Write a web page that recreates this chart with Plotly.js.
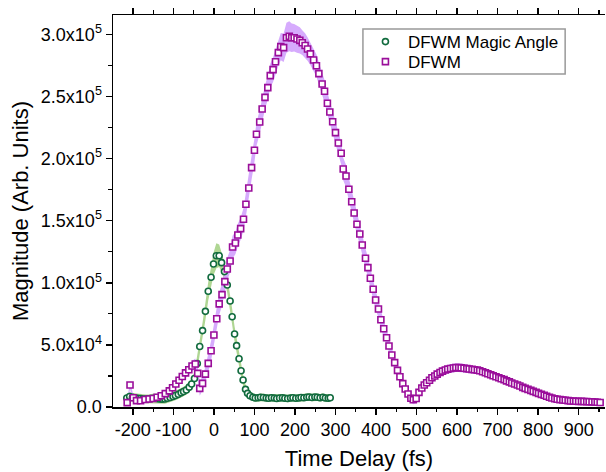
<!DOCTYPE html>
<html>
<head>
<meta charset="utf-8">
<script src="https://cdn.plot.ly/plotly-3.0.1.min.js"></script>
<style>html,body{margin:0;padding:0;background:#fff;}#chart{width:606px;height:472px;}</style>
</head>
<body>
<div id="chart"></div>
<script>
// ---- Data ----
const magicT = [-215,-208,-201,-195,-188,-181,-175,-168,-161,-155,-148,-141,-135,-128,-121,-115,-108,-101,-95,-88,-81,-75,-68,-61,-55,-48,-41,-35,-28,-21,-14,-7,-1,6,13,19,26,33,40,45,51,56,62,67,72,78,83,89,96,102,109,115,122,129,135,142,149,155,162,169,175,182,189,195,202,209,215,222,229,235,242,249,255,262,269,275,282,287];
const magicY = [7200,8500,7800,7500,7000,6800,6500,6500,6600,6800,7000,6800,6500,6300,6400,7000,7600,8500,9300,10200,11500,12500,13700,16000,18500,23000,35000,48700,61500,77000,93200,104500,115100,121800,121800,116200,109000,98200,85300,72700,58800,49400,38900,29200,21700,14200,11000,9100,7800,7200,7400,7800,7600,7200,7000,7400,7200,6800,7200,7500,7000,6800,7200,7400,7000,7200,7600,7400,7800,8000,7600,8000,7800,7400,7800,7200,7000,7400];
const magicErr = [3000,3500,3500,3500,3500,3500,3500,3500,3500,3800,3800,3800,3800,3800,3800,3800,3800,3800,3800,3800,3800,3800,3800,4000,4500,5000,6000,6500,6500,7000,7500,8000,9000,10000,9000,8000,7000,6500,6500,6500,6000,6000,5500,5000,4500,4000,3500,3000,3000,3000,3000,3000,3000,3000,3000,3000,3000,3000,3000,3000,3000,3000,3000,3000,3000,3000,3000,3000,3000,3000,3000,3000,3000,3000,3000,3000,3000,3000];

const dfwmT = [-214,-207,-199,-191,-181,-170,-160,-150,-140,-130,-120,-110,-102,-94,-86,-78,-70,-62,-54,-46,-40,-35,-28,-21,-14,-7,0,7,13,20,27,33,40,46,53,59,66,73,79,86,93,100,105,113,119,126,133,139,146,152,159,165,172,179,186,192,198,205,212,218,225,231,238,246,253,259,267,273,280,286,293,300,307,314,319,326,333,340,346,353,360,366,374,380,386,393,399,406,412,419,426,432,439,446,453,459,466,472,479,486,492,499,506,513,519,525,532,538,545,551,558,564,571,577,584,591,597,604,610,617,624,630,637,643,650,656,663,670,676,683,689,696,703,709,716,722,729,735,742,749,755,762,768,775,782,788,795,801,808,815,821,828,834,841,847,854,861,867,874,880,887,893,900,907,913,920,926,933,940,946,953];
const dfwmY = [3500,17700,7500,5100,5000,6000,6400,6800,7800,9000,10800,13000,15500,18500,21500,24500,27500,30000,33000,34600,27100,15000,19000,26500,35100,45300,58000,71000,83000,90500,100900,111100,117600,128800,132000,138500,143600,151100,163200,176300,192700,206700,219600,229500,239900,249300,257100,266800,271600,278000,285300,290100,289300,297300,298500,297300,297300,296300,295200,293300,291000,288200,284300,279400,274800,268400,260000,254200,244500,237500,229700,220900,212600,204300,191600,186000,175300,165300,156200,147100,139300,130400,119700,112200,103600,94800,86100,78900,70300,63000,55800,49100,41900,35700,29500,24400,18800,14500,10500,7000,5800,6800,11800,15300,17700,19500,21500,23500,25000,26500,27800,28900,29800,30500,31000,31400,31700,31700,31500,31200,30900,30600,30300,30000,29700,29200,28400,27600,26800,26000,25200,24400,23600,22800,22000,21000,20200,19300,18500,17700,16900,15800,15000,14200,13400,12600,11800,11000,10200,9400,8600,7800,7200,6700,6200,5900,5600,5400,5100,4800,4700,4600,4500,4500,4400,4300,4200,4100,4000,3800,3600];
const dfwmErr = [2000,3500,2000,2000,2000,2000,2000,2000,2000,2200,2500,2800,3000,3200,3500,3500,3500,3800,4000,4500,5000,6000,5500,6000,7000,8000,8500,9000,9000,9000,9000,9000,9000,9000,9000,9000,9000,9000,9500,9500,9500,9500,9500,9500,9500,9500,9500,9500,10000,10000,10500,11000,11500,12000,12000,11500,11000,11000,10500,10000,10000,9500,9000,9000,9000,9000,9000,9000,9000,9000,9000,9000,9000,9000,9000,9000,9000,9000,9000,8500,8500,8500,8000,8000,8000,7500,7500,7000,7000,6500,6500,6000,5500,5000,5000,4500,4500,4000,4000,3500,3500,3500,3500,3500,3500,3500,3500,3500,3500,3500,3500,3500,3500,3500,3500,3500,3500,3500,3500,3500,3500,3000,3000,3000,3000,3000,3000,3000,3000,3000,3000,3000,3000,3000,3000,3000,3000,3000,3000,2500,2500,2500,2500,2500,2500,2500,2500,2500,2500,2500,2500,2500,2500,2500,2200,2200,2200,2200,2200,2000,2000,2000,2000,2000,2000,2000,2000,2000,2000,2000,2000,2000];

const xTickVals = [-200,-100,0,100,200,300,400,500,600,700,800,900];
const xTickText = ['-200','-100','0','100','200','300','400','500','600','700','800','900'];
const yTickVals = [0,50000,100000,150000,200000,250000,300000];
const yTickText = ['0.0','5.0x10<sup>4</sup>','1.0x10<sup>5</sup>','1.5x10<sup>5</sup>','2.0x10<sup>5</sup>','2.5x10<sup>5</sup>','3.0x10<sup>5</sup>'];

// ---- Colours ----
const greenMark = '#116B3E';
const greenBand = '#AFD693';
const purpleMark = '#9A0E9A';
const purpleBand = '#D6ABFD';

function band(t, y, e, color) {
  const up = y.map((v, i) => v + e[i]);
  const lo = y.map((v, i) => v - e[i]);
  return [
    {x: t, y: up, type: 'scatter', mode: 'lines', line: {width: 0, color: color}, showlegend: false, hoverinfo: 'skip'},
    {x: t, y: lo, type: 'scatter', mode: 'lines', line: {width: 0, color: color}, fill: 'tonexty', fillcolor: color, showlegend: false, hoverinfo: 'skip'}
  ];
}

const traces = [
  ...band(magicT, magicY, magicErr, greenBand),
  ...band(dfwmT, dfwmY, dfwmErr, purpleBand),
  {x: magicT, y: magicY, type: 'scatter', mode: 'markers', name: 'DFWM Magic Angle', legend: 'legend',
   marker: {symbol: 'circle', size: 6, color: '#ffffff', line: {color: greenMark, width: 1.6}}},
  {x: dfwmT, y: dfwmY, type: 'scatter', mode: 'markers', name: 'DFWM', legend: 'legend2',
   marker: {symbol: 'square', size: 6, color: '#ffffff', line: {color: purpleMark, width: 1.6}}}
];

const font = 'Liberation Sans, Arial, sans-serif';
const legendBase = {x: 0.508, xanchor: 'left', yanchor: 'middle',
  bgcolor: 'rgba(0,0,0,0)', borderwidth: 0, itemwidth: 35,
  font: {family: font, size: 17, color: '#000'}};

const layout = {
  width: 606, height: 472,
  margin: {l: 113, r: 1, t: 15, b: 65},
  paper_bgcolor: '#ffffff', plot_bgcolor: '#ffffff',
  font: {family: font, color: '#000', size: 17},
  showlegend: true,
  legend: Object.assign({}, legendBase, {y: 0.931}),
  legend2: Object.assign({}, legendBase, {y: 0.880}),
  shapes: [{type: 'rect', xref: 'paper', yref: 'paper', x0: 0.508, x1: 0.919, y0: 0.8495, y1: 0.964,
    line: {color: '#999999', width: 1.5}, fillcolor: '#ffffff', layer: 'above'}],
  xaxis: {
    range: [-249, 965], showgrid: false, zeroline: false,
    showline: true, linecolor: '#000', linewidth: 1.5, mirror: 'allticks',
    ticks: 'outside', ticklen: 6, tickwidth: 1.5, tickcolor: '#000',
    tickmode: 'array', tickvals: xTickVals, ticktext: xTickText,
    tickfont: {family: font, size: 18, color: '#000'},
    minor: {tickmode: 'linear', tick0: 0, dtick: 50, ticks: 'outside', ticklen: 3.5, tickwidth: 1.2, tickcolor: '#000'},
    title: {text: 'Time Delay (fs)', font: {family: font, size: 22, color: '#000'}, standoff: 11}
  },
  yaxis: {
    range: [0, 315600], showgrid: false, zeroline: false,
    showline: true, linecolor: '#000', linewidth: 1.5,
    ticks: 'outside', ticklen: 6, tickwidth: 1.5, tickcolor: '#000',
    tickmode: 'array', tickvals: yTickVals, ticktext: yTickText,
    tickfont: {family: font, size: 18, color: '#000'},
    minor: {tickmode: 'linear', tick0: 0, dtick: 25000, ticks: 'outside', ticklen: 3.5, tickwidth: 1.2, tickcolor: '#000'},
    title: {text: 'Magnitude (Arb. Units)', font: {family: font, size: 22, color: '#000'}, standoff: 6}
  }
};

Plotly.newPlot('chart', traces, layout, {staticPlot: true, displayModeBar: false});
</script>
</body>
</html>
